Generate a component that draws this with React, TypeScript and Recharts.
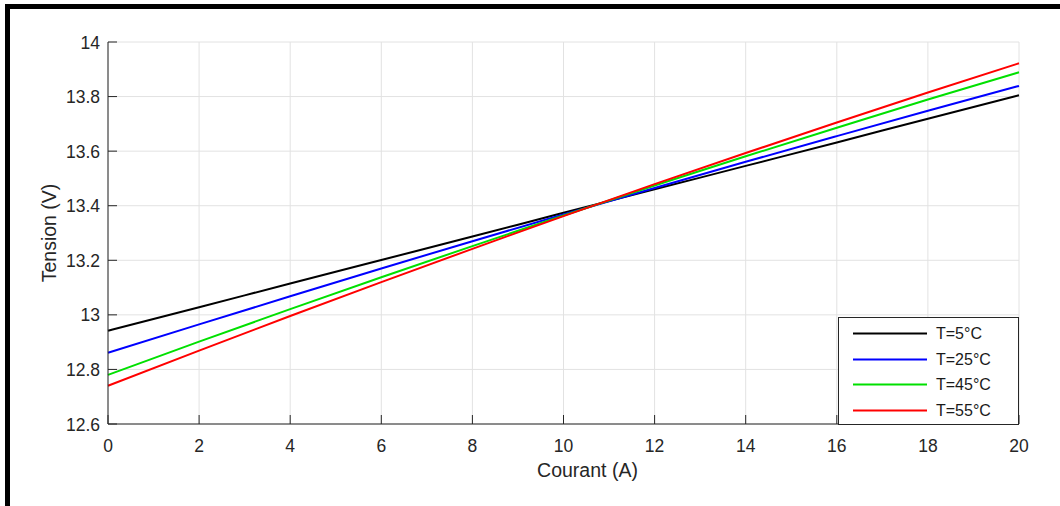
import React from 'react';
import { LineChart, Line, XAxis, YAxis, CartesianGrid, Legend } from 'recharts';

const currentA = [0, 2, 4, 6, 8, 10, 12, 14, 16, 18, 20];
const t5 = [12.942, 13.028, 13.115, 13.201, 13.287, 13.374, 13.460, 13.546, 13.632, 13.719, 13.805];
const t25 = [12.861, 12.965, 13.068, 13.170, 13.270, 13.368, 13.465, 13.561, 13.655, 13.748, 13.839];
const t45 = [12.780, 12.902, 13.021, 13.138, 13.252, 13.364, 13.474, 13.581, 13.686, 13.789, 13.889];
const t55 = [12.740, 12.869, 12.996, 13.120, 13.242, 13.362, 13.479, 13.593, 13.705, 13.815, 13.922];

const xTicks = [0, 2, 4, 6, 8, 10, 12, 14, 16, 18, 20];
const yTicks = [12.6, 12.8, 13, 13.2, 13.4, 13.6, 13.8, 14];

const seriesNames = ['T=5°C', 'T=25°C', 'T=45°C', 'T=55°C'];
const seriesColors = ['#000000', '#0000ff', '#00e000', '#ff0000'];

const data = currentA.map((c, i) => ({
  c,
  s0: t5[i],
  s1: t25[i],
  s2: t45[i],
  s3: t55[i],
}));

const AX = '#262626';
const FONT = '"Liberation Sans", Arial, Helvetica, sans-serif';
const TL = 9;
const TICK_FS = 17.5;
const LABEL_FS = 19.5;

const BottomTick = (props: any) => {
  const { x, y, payload } = props;
  return (
    <g>
      <line x1={x} y1={y} x2={x} y2={y - TL} stroke={AX} strokeWidth={1} />
      <text x={x} y={y + 28} textAnchor="middle" fill={AX} fontSize={TICK_FS} fontFamily={FONT}>
        {payload.value}
      </text>
    </g>
  );
};

const TopTick = (props: any) => {
  const { x, y } = props;
  return <line x1={x} y1={y} x2={x} y2={y + TL} stroke={AX} strokeWidth={1} />;
};

const LeftTick = (props: any) => {
  const { x, y, payload } = props;
  return (
    <g>
      <line x1={x} y1={y} x2={x + TL} y2={y} stroke={AX} strokeWidth={1} />
      <text x={x - 8} y={y + 6.5} textAnchor="end" fill={AX} fontSize={TICK_FS} fontFamily={FONT}>
        {payload.value}
      </text>
    </g>
  );
};

const RightTick = (props: any) => {
  const { x, y } = props;
  return <line x1={x} y1={y} x2={x - TL} y2={y} stroke={AX} strokeWidth={1} />;
};

const YLabel = (props: any) => {
  const { viewBox } = props;
  const cx = viewBox.x + 11;
  const cy = viewBox.y + viewBox.height / 2;
  return (
    <text
      x={cx}
      y={cy}
      transform={`rotate(-90, ${cx}, ${cy})`}
      textAnchor="middle"
      dominantBaseline="central"
      fill={AX}
      fontSize={LABEL_FS}
      fontFamily={FONT}
    >
      Tension (V)
    </text>
  );
};

const XLabel = (props: any) => {
  const { viewBox } = props;
  const cx = viewBox.x + viewBox.width / 2 + 24;
  const cy = viewBox.y + 46;
  return (
    <text x={cx} y={cy} textAnchor="middle" dominantBaseline="central" fill={AX} fontSize={LABEL_FS} fontFamily={FONT}>
      Courant (A)
    </text>
  );
};

const LegendBox = (props: any) => {
  const { payload } = props;
  const items = [...(payload || [])].sort(
    (a: any, b: any) => seriesNames.indexOf(a.value) - seriesNames.indexOf(b.value)
  );
  return (
    <div
      style={{
        width: 181,
        height: 108,
        border: `1px solid ${AX}`,
        background: '#fff',
        boxSizing: 'border-box',
        paddingTop: 3,
        fontFamily: FONT,
        fontSize: 16,
        color: '#1a1a1a',
      }}
    >
      {items.map((p: any) => (
        <div key={p.value} style={{ height: 25.5, display: 'flex', alignItems: 'center' }}>
          <svg width={97} height={25} style={{ display: 'block', flex: 'none' }}>
            <line x1={14} y1={12.5} x2={88} y2={12.5} stroke={p.color} strokeWidth={2} />
          </svg>
          <span style={{ lineHeight: '25px' }}>{p.value}</span>
        </div>
      ))}
    </div>
  );
};

export default function App() {
  return (
    <div style={{ position: 'absolute', left: 0, top: 0, width: 1060, height: 506, background: '#fff', overflow: 'hidden' }}>
      <div style={{ position: 'absolute', left: 5, top: 4, width: 1055, height: 5, background: '#000' }} />
      <div style={{ position: 'absolute', left: 5, top: 4, width: 5, height: 502, background: '#000' }} />
      <div style={{ position: 'absolute', left: 0, top: 0 }}>
        <LineChart width={1060} height={506} data={data} margin={{ top: 42, right: 41, bottom: 42, left: 38 }}>
          <CartesianGrid stroke="#e2e2e2" strokeWidth={1} />
          <XAxis
            dataKey="c"
            type="number"
            domain={[0, 20]}
            ticks={xTicks}
            height={40}
            stroke={AX}
            axisLine={{ stroke: AX }}
            tickLine={false}
            tickSize={0}
            tickMargin={0}
            tick={<BottomTick />}
            interval={0}
            label={<XLabel />}
          />
          <XAxis
            xAxisId="top"
            orientation="top"
            type="number"
            domain={[0, 20]}
            ticks={xTicks}
            height={0}
            axisLine={{ stroke: AX }}
            tickLine={false}
            tickSize={0}
            tickMargin={0}
            tick={<TopTick />}
            interval={0}
          />
          <YAxis
            type="number"
            domain={[12.6, 14]}
            ticks={yTicks}
            width={70}
            axisLine={{ stroke: AX }}
            tickLine={false}
            tickSize={0}
            tickMargin={0}
            tick={<LeftTick />}
            interval={0}
            label={<YLabel />}
          />
          <YAxis
            yAxisId="right"
            orientation="right"
            type="number"
            domain={[12.6, 14]}
            ticks={yTicks}
            width={0}
            axisLine={{ stroke: AX }}
            tickLine={false}
            tickSize={0}
            tickMargin={0}
            tick={<RightTick />}
            interval={0}
          />
          <Legend
            layout="vertical"
            align="center"
            verticalAlign="middle"
            wrapperStyle={{ left: 838, top: 317, width: 181, height: 108 }}
            content={<LegendBox />}
          />
          {seriesNames.map((name, i) => (
            <Line
              key={name}
              type="monotone"
              dataKey={`s${i}`}
              name={name}
              stroke={seriesColors[i]}
              strokeWidth={2}
              dot={false}
              activeDot={false}
              isAnimationActive={false}
            />
          ))}
        </LineChart>
      </div>
    </div>
  );
}
